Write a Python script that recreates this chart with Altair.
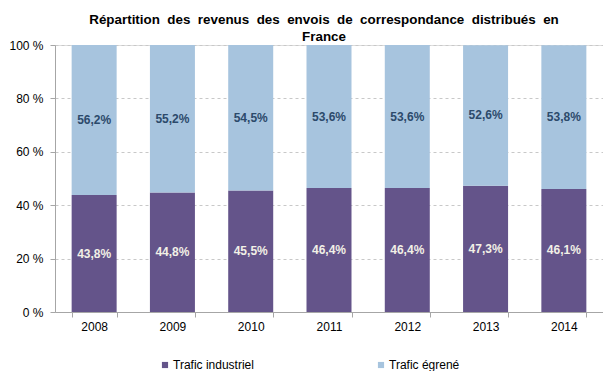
import altair as alt
import pandas as pd

years = ["2008", "2009", "2010", "2011", "2012", "2013", "2014"]
industriel = [43.8, 44.8, 45.5, 46.4, 46.4, 47.3, 46.1]
egrene = [56.2, 55.2, 54.5, 53.6, 53.6, 52.6, 53.8]
series = ["Trafic industriel", "Trafic égrené"]

rows = []
for y, a, b in zip(years, industriel, egrene):
    rows.append({"year": y, "serie": series[0], "value": a, "order": 0,
                 "label": f"{a:.1f}%".replace(".", ",")})
    rows.append({"year": y, "serie": series[1], "value": b, "order": 1,
                 "label": f"{b:.1f}%".replace(".", ",")})
df = pd.DataFrame(rows)

FONT = "Arial"
SP = "\u00a0 "

x = alt.X("year:N", title=None, sort=years,
          scale=alt.Scale(paddingInner=0.425, paddingOuter=0.2125),
          axis=alt.Axis(labelAngle=0, labelFontSize=12, labelFont=FONT, labelColor="#000",
                        domainColor="#a6a6a6", tickColor="#a6a6a6", tickBand="extent",
                        tickSize=5, labelPadding=4, grid=False))
y = alt.Y("value:Q", stack="zero", title=None,
          scale=alt.Scale(domain=[0, 100]),
          axis=alt.Axis(values=[0, 20, 40, 60, 80, 100], labelExpr="datum.value + ' %'",
                        labelFontSize=12, labelFont=FONT, labelColor="#000",
                        domainColor="#a6a6a6", tickColor="#a6a6a6", tickSize=5, labelPadding=7,
                        gridColor="#c8c8c8", gridDash=[3, 3], gridWidth=1))

bars = alt.Chart(df).mark_bar(size=45).encode(
    x=x, y=y,
    color=alt.Color("serie:N", sort=series,
                    scale=alt.Scale(domain=series, range=["#64548A", "#A7C4DE"]),
                    legend=alt.Legend(title=None, orient="none", direction="horizontal",
                                      legendX=104, legendY=314, symbolType="square",
                                      symbolSize=38, symbolStrokeWidth=0, padding=0,
                                      labelFontSize=12, labelFont=FONT, labelColor="#000",
                                      columnPadding=121, labelOffset=2)),
    order=alt.Order("order:Q"),
)

text = alt.Chart(df).transform_stack(
    stack="value", groupby=["year"], as_=["v0", "v1"], sort=[alt.SortField("order")]
).transform_calculate(mid="(datum.v0 + datum.v1) / 2").mark_text(
    fontSize=12, fontWeight="bold", font=FONT
).encode(
    x=alt.X("year:N", sort=years),
    y=alt.Y("mid:Q"),
    text="label:N",
    color=alt.Color("serie:N", scale=alt.Scale(domain=series, range=["#F2F0E6", "#2C4A6B"]), legend=None),
)

title_line1 = SP.join(["Répartition", "des", "revenus", "des", "envois", "de",
                       "correspondance", "distribués", "en"])

chart = alt.layer(bars, text).resolve_scale(color="independent").properties(
    width=548, height=267,
    title=alt.TitleParams(
        text=[title_line1, "France"],
        font=FONT, fontSize=13.4, fontWeight="bold", color="#000", anchor="middle",
        offset=-4, lineHeight=17, dx=-5),
).configure_view(stroke=None).configure(padding={"left": 0, "top": 4, "right": 0, "bottom": 0})

chart.save("out.html", embed_options={"renderer": "svg", "actions": False})
